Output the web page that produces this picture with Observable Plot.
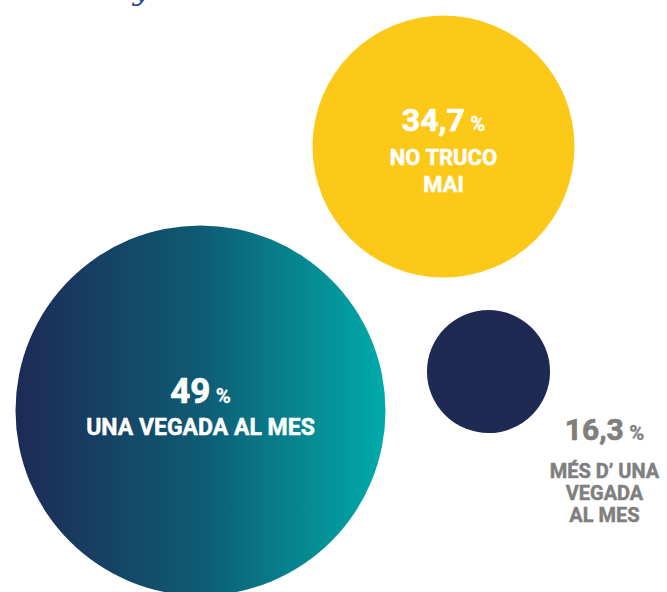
<!DOCTYPE html>
<html>
<head>
<meta charset="utf-8">
<script src="https://cdn.jsdelivr.net/npm/d3@7"></script>
<script src="https://cdn.jsdelivr.net/npm/@observablehq/plot@0.6"></script>
<style>
  html, body { margin: 0; padding: 0; background: #ffffff; }
  #chart svg { display: block; }
</style>
</head>
<body>
<div id="chart"></div>
<script>
// ---- data ----
const categories = ["UNA VEGADA AL MES", "NO TRUCO MAI", "MÉS D’ UNA VEGADA AL MES"];
const values = [49, 34.7, 16.3];
const valueLabels = ["49", "34,7", "16,3"];
const labelLines = [["UNA VEGADA AL MES"], ["NO TRUCO", "MAI"], ["MÉS D’ UNA", "VEGADA", "AL MES"]];

// ---- layout (positions, in pixels of the 667x592 canvas) ----
const circleX = [200, 443, 488];
const circleY = [410, 146, 371];
const labelX = [200, 443, 604];
const valueBaseline = [402, 130, 439];
const lineBaselines = [[434], [164, 191], [477, 499, 521]];
const valueSize = [35, 32, 30];
const lineSize = [23, 22, 20];
const textColor = ["#ffffff", "#ffffff", "#7f7f7f"];
const fills = ["url(#bigGrad)", "#fcc918", "#1f2a53"];

const circles = categories.map((c, i) => ({cat: c, value: values[i], x: circleX[i], y: circleY[i], fill: fills[i]}));
const valueRows = categories.map((c, i) => ({text: valueLabels[i] + " %", x: labelX[i], y: valueBaseline[i], size: valueSize[i], color: textColor[i]}));
const lineRows = categories.flatMap((c, i) => labelLines[i].map((t, j) => ({text: t, x: labelX[i], y: lineBaselines[i][j], size: lineSize[i], color: textColor[i]})));

const defs = () => {
  const d = d3.create("svg:defs");
  const g = d.append("linearGradient").attr("id", "bigGrad").attr("x1", "0").attr("x2", "1").attr("y1", "0").attr("y2", "0");
  g.append("stop").attr("offset", "0%").attr("stop-color", "#1d2a56");
  g.append("stop").attr("offset", "50%").attr("stop-color", "#0e5b74");
  g.append("stop").attr("offset", "100%").attr("stop-color", "#00abaa");
  return d.node();
};

const font = "Roboto, 'Open Sans', sans-serif";

const plot = Plot.plot({
  width: 667,
  height: 592,
  margin: 0,
  style: {fontFamily: font, background: "#ffffff", overflow: "hidden"},
  x: {domain: [0, 667], range: [0, 667], axis: null},
  y: {domain: [0, 592], range: [0, 592], axis: null},
  r: {type: "linear", domain: [0, 49], range: [0, 185]},
  marks: [
    defs,
    Plot.dot(circles, {x: "x", y: "y", r: "value", fill: "fill", stroke: null}),
    Plot.text(["y"], {x: [141], y: [-1], text: d => d, fontSize: 30, fontStyle: "italic", fontFamily: "'DejaVu Serif', serif", fill: "#2d4f94", lineAnchor: "bottom", textAnchor: "middle"}),
    ...valueRows.map(r => Plot.text([r], {x: "x", y: "y", text: "text", fill: r.color, stroke: r.color, strokeWidth: 0.7, fontSize: r.size, fontWeight: 700, textAnchor: "middle", lineAnchor: "bottom"})),
    ...lineRows.map(r => Plot.text([r], {x: "x", y: "y", text: "text", fill: r.color, stroke: r.color, strokeWidth: 0.5, fontSize: r.size, fontWeight: 700, textAnchor: "middle", lineAnchor: "bottom"}))
  ]
});

// smaller percent sign
d3.select(plot).selectAll("text").each(function() {
  const t = this.textContent;
  if (t.endsWith(" %")) {
    const num = t.slice(0, -2);
    const size = parseFloat(this.getAttribute("font-size")) || 30;
    const sel = d3.select(this);
    sel.text(null);
    sel.append("tspan").text(num);
    sel.append("tspan").attr("dx", size * 0.18).attr("font-size", size * 0.68).attr("stroke-width", 0.3).text("%");
  }
});

document.getElementById("chart").appendChild(plot);
</script>
</body>
</html>
